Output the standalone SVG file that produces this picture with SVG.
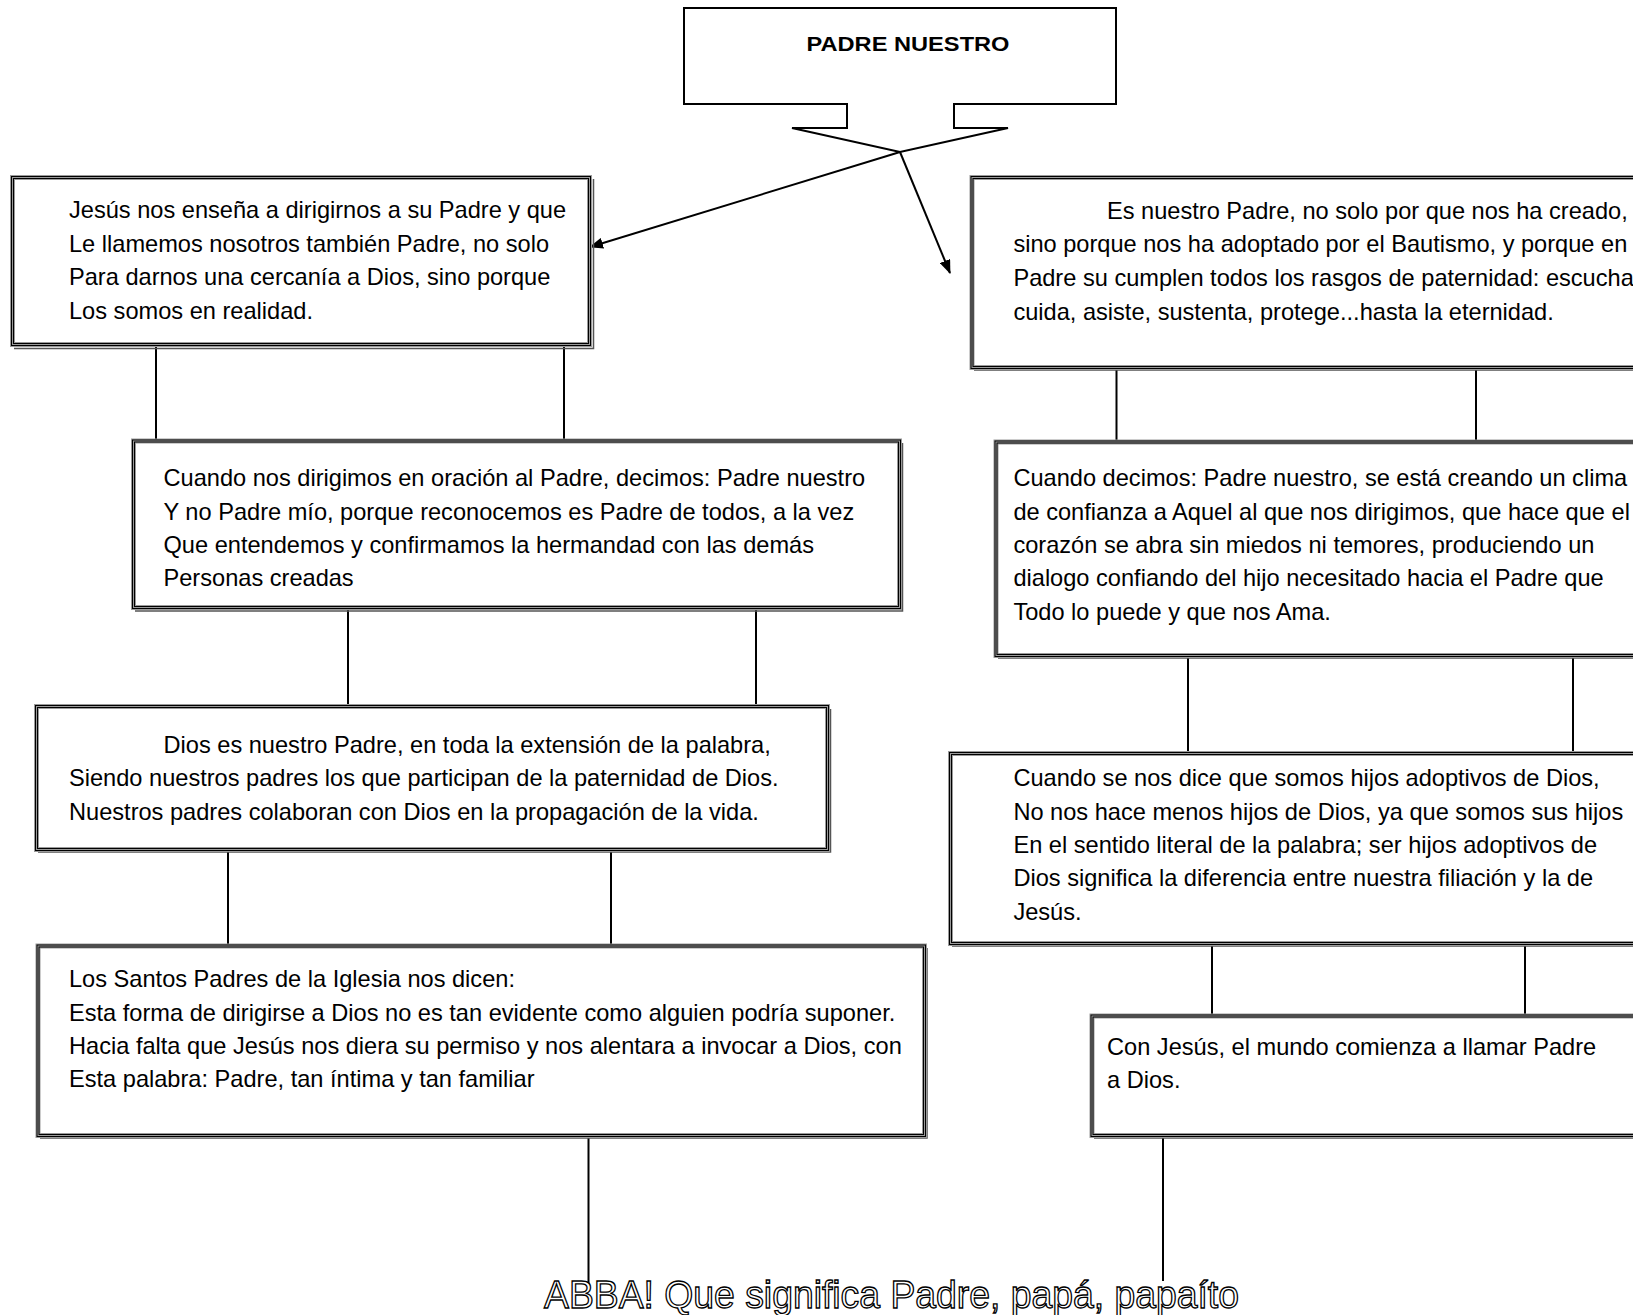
<svg xmlns="http://www.w3.org/2000/svg" width="1633" height="1315" viewBox="0 0 1633 1315">
<style>
.t{font-family:"Liberation Sans",Arial,sans-serif;font-size:23.6px;fill:#000}
.ttl{font-family:"Liberation Sans",Arial,sans-serif;font-size:20px;font-weight:bold;fill:#000}
.fo{fill:#fff;stroke:#9a9a9a;stroke-width:5}
.fi{fill:none;stroke:#000;stroke-width:1}
.sh{fill:none;stroke:#555;stroke-width:1.5}
.ln{stroke:#000;stroke-width:2;fill:none}
.abba{font-family:"Liberation Sans",Arial,sans-serif;font-size:38px;fill:#fff;stroke:#000;stroke-width:1.3}
</style>
<defs>
<marker id="ah" markerWidth="14" markerHeight="11" refX="13" refY="5.5" orient="auto" markerUnits="userSpaceOnUse">
<path d="M0,0 L14,5.5 L0,11 Z" fill="#000"/>
</marker>
</defs>
<rect width="1633" height="1315" fill="#fff"/>

<g id="connectors">
<line class="ln" x1="900" y1="152" x2="590" y2="247" marker-end="url(#ah)"/>
<line class="ln" x1="900" y1="152" x2="950" y2="273" marker-end="url(#ah)"/>
<line class="ln" x1="156" y1="347" x2="156" y2="439"/>
<line class="ln" x1="564" y1="347" x2="564" y2="439"/>
<line class="ln" x1="348" y1="610" x2="348" y2="704"/>
<line class="ln" x1="756" y1="610" x2="756" y2="704"/>
<line class="ln" x1="228" y1="852" x2="228" y2="944"/>
<line class="ln" x1="611" y1="852" x2="611" y2="944"/>
<line class="ln" x1="588.5" y1="1138" x2="588.5" y2="1286"/>
<line class="ln" x1="1116.5" y1="370" x2="1116.5" y2="440"/>
<line class="ln" x1="1476" y1="370" x2="1476" y2="440"/>
<line class="ln" x1="1188" y1="658" x2="1188" y2="751"/>
<line class="ln" x1="1573" y1="658" x2="1573" y2="751"/>
<line class="ln" x1="1212" y1="946" x2="1212" y2="1014"/>
<line class="ln" x1="1525" y1="946" x2="1525" y2="1014"/>
<line class="ln" x1="1163" y1="1138" x2="1163" y2="1281"/>
</g>

<g id="title">
<path d="M684,8 H1116 V104 H954 V128 H1008 L900,152 L792,128 H847 V104 H684 Z" fill="#fff" stroke="#000" stroke-width="2"/>
<text class="ttl" x="908" y="51" text-anchor="middle" textLength="203" lengthAdjust="spacingAndGlyphs">PADRE NUESTRO</text>
</g>

<g id="box-l1">
<path class="sh" d="M593.5,179 V348.5 H14"/>
<rect class="fo" x="12.5" y="177.5" width="577" height="167"/>
<rect class="fi" x="11.5" y="176.5" width="579" height="169"/>
<rect class="fi" x="13.5" y="178.5" width="575" height="165"/>
<text class="t" x="69" y="218">Jesús nos enseña a dirigirnos a su Padre y que</text>
<text class="t" x="69" y="251.5">Le llamemos nosotros también Padre, no solo</text>
<text class="t" x="69" y="285">Para darnos una cercanía a Dios, sino porque</text>
<text class="t" x="69" y="318.5">Los somos en realidad.</text>
</g>

<g id="box-l2">
<path class="sh" d="M902.5,443 V611 H135"/>
<rect class="fo" x="133.5" y="441" width="766" height="166.5"/>
<rect class="fi" x="132.5" y="440" width="768" height="168.5"/>
<rect class="fi" x="134.5" y="442" width="764" height="164.5"/>
<text class="t" x="163.5" y="486">Cuando nos dirigimos en oración al Padre, decimos: Padre nuestro</text>
<text class="t" x="163.5" y="519.5">Y no Padre mío, porque reconocemos es Padre de todos, a la vez</text>
<text class="t" x="163.5" y="553">Que entendemos y confirmamos la hermandad con las demás</text>
<text class="t" x="163.5" y="586">Personas creadas</text>
</g>

<g id="box-l3">
<path class="sh" d="M830.5,709 V852 H38"/>
<rect class="fo" x="36.5" y="706.5" width="791" height="143"/>
<rect class="fi" x="35.5" y="705.5" width="793" height="145"/>
<rect class="fi" x="37.5" y="707.5" width="789" height="141"/>
<text class="t" x="163.5" y="753">Dios es nuestro Padre, en toda la extensión de la palabra,</text>
<text class="t" x="69" y="786">Siendo nuestros padres los que participan de la paternidad de Dios.</text>
<text class="t" x="69" y="819.5">Nuestros padres colaboran con Dios en la propagación de la vida.</text>
</g>

<g id="box-l4">
<path class="sh" d="M927,948 V1138 H40"/>
<rect class="fo" x="38" y="946" width="886.5" height="189.5"/>
<rect class="fi" x="37" y="945" width="888.5" height="191.5"/>
<rect class="fi" x="39" y="947" width="884.5" height="187.5"/>
<text class="t" x="69" y="987">Los Santos Padres de la Iglesia nos dicen:</text>
<text class="t" x="69" y="1020.5">Esta forma de dirigirse a Dios no es tan evidente como alguien podría suponer.</text>
<text class="t" x="69" y="1054">Hacia falta que Jesús nos diera su permiso y nos alentara a invocar a Dios, con</text>
<text class="t" x="69" y="1087">Esta palabra: Padre, tan íntima y tan familiar</text>
</g>

<g id="box-r1">
<path class="sh" d="M974,370 H1680"/>
<rect class="fo" x="972" y="177.5" width="700" height="190"/>
<rect class="fi" x="971" y="176.5" width="702" height="192"/>
<rect class="fi" x="973" y="178.5" width="698" height="188"/>
<text class="t" x="1107" y="218.5">Es nuestro Padre, no solo por que nos ha creado,</text>
<text class="t" x="1013.4" y="252">sino porque nos ha adoptado por el Bautismo, y porque en</text>
<text class="t" x="1013.4" y="286">Padre su cumplen todos los rasgos de paternidad: escucha</text>
<text class="t" x="1013.4" y="319.5">cuida, asiste, sustenta, protege...hasta la eternidad.</text>
</g>

<g id="box-r2">
<path class="sh" d="M998,658 H1700"/>
<rect class="fo" x="996" y="442" width="700" height="213.5"/>
<rect class="fi" x="995" y="441" width="702" height="215.5"/>
<rect class="fi" x="997" y="443" width="698" height="211.5"/>
<text class="t" x="1013.4" y="486">Cuando decimos: Padre nuestro, se está creando un clima</text>
<text class="t" x="1013.4" y="519.5">de confianza a Aquel al que nos dirigimos, que hace que  el</text>
<text class="t" x="1013.4" y="553">corazón se abra sin miedos ni temores, produciendo un</text>
<text class="t" x="1013.4" y="586">dialogo confiando del hijo necesitado hacia el Padre que</text>
<text class="t" x="1013.4" y="619.5">Todo lo puede y que nos Ama.</text>
</g>

<g id="box-r3">
<path class="sh" d="M952,946 H1700"/>
<rect class="fo" x="950.5" y="753.5" width="720" height="190"/>
<rect class="fi" x="949.5" y="752.5" width="722" height="192"/>
<rect class="fi" x="951.5" y="754.5" width="718" height="188"/>
<text class="t" x="1013.4" y="786">Cuando se nos dice que somos hijos adoptivos de Dios,</text>
<text class="t" x="1013.4" y="819.5">No nos hace menos hijos de Dios, ya que somos sus hijos</text>
<text class="t" x="1013.4" y="853">En el sentido literal de la palabra; ser hijos adoptivos de</text>
<text class="t" x="1013.4" y="886">Dios significa la diferencia entre nuestra filiación y la  de</text>
<text class="t" x="1013.4" y="920">Jesús.</text>
</g>

<g id="box-r4">
<path class="sh" d="M1094,1138 H1700"/>
<rect class="fo" x="1092" y="1016" width="580" height="119.5"/>
<rect class="fi" x="1091" y="1015" width="582" height="121.5"/>
<rect class="fi" x="1093" y="1017" width="578" height="117.5"/>
<text class="t" x="1107" y="1055">Con Jesús, el mundo comienza a llamar Padre</text>
<text class="t" x="1107" y="1088">a Dios.</text>
</g>

<g id="abba">
<text class="abba" x="544" y="1308" textLength="695" lengthAdjust="spacingAndGlyphs">ABBA! Que significa Padre, papá, papaíto</text>
</g>
</svg>
